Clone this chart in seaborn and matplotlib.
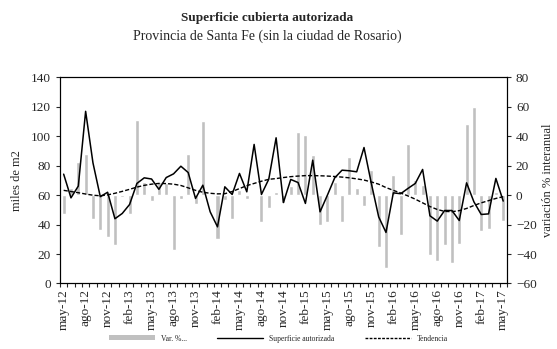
import numpy as np
import pandas as pd
import matplotlib
matplotlib.use("Agg")
import matplotlib.pyplot as plt
import seaborn as sns
from matplotlib.patches import Patch
from matplotlib.lines import Line2D

# Meses: may-12 a may-17
meses_es = ["ene", "feb", "mar", "abr", "may", "jun", "jul", "ago", "sep", "oct", "nov", "dic"]
fechas = pd.date_range("2012-05-01", "2017-05-01", freq="MS")
etiquetas = [f"{meses_es[d.month - 1]}-{str(d.year)[2:]}" for d in fechas]

# Superficie cubierta autorizada (miles de m2)
superficie = [74.3, 58.2, 66.2, 117.0, 82.0, 59.0, 62.0, 44.0, 47.6, 53.7,
              68.0, 71.8, 71.0, 64.0, 72.0, 74.5, 79.7, 75.4, 57.8, 66.8,
              48.7, 38.5, 65.7, 60.5, 74.8, 62.3, 94.5, 60.5, 70.9, 99.0,
              55.0, 70.7, 68.6, 54.4, 83.8, 48.7, 60.0, 71.8, 77.0, 76.6,
              75.9, 92.4, 68.0, 45.3, 34.7, 61.6, 61.0, 64.6, 68.0, 77.5,
              46.0, 42.4, 49.6, 49.6, 42.8, 68.4, 55.5, 46.9, 47.3, 71.4,
              56.0]

# Tendencia (miles de m2)
tendencia = [63.3, 62.5, 61.7, 60.8, 60.0, 59.6, 60.2, 61.3, 62.6, 64.0,
             65.5, 66.7, 67.5, 68.0, 67.9, 67.5, 66.6, 65.0, 63.3, 62.0,
             61.3, 60.9, 61.0, 62.5, 64.5, 66.5, 68.0, 69.5, 70.8, 71.3,
             72.0, 72.6, 73.0, 73.3, 73.3, 73.2, 73.0, 72.7, 72.3, 71.8,
             71.1, 70.3, 69.0, 67.5, 65.2, 63.3, 61.5, 59.5, 57.3, 54.8,
             52.3, 50.3, 49.0, 48.8, 49.5, 51.0, 53.0, 54.8, 56.3, 57.8,
             59.0]

# Variación % interanual
variacion = [-13.0, 5.0, 22.6, 28.0, -16.3, -23.8, -28.3, -34.0, -1.0, -13.0,
             51.4, 9.0, -4.0, 9.0, 8.0, -37.0, -2.3, 28.0, -6.0, 50.5,
             0.0, -29.5, -3.0, -16.0, 3.4, -2.3, 0.0, -18.0, -8.4, 2.0,
             -5.0, 6.0, 43.0, 41.0, 27.0, -20.4, -18.0, 9.0, -18.0, 26.0,
             5.0, -7.0, 17.0, -35.5, -49.8, 14.0, -27.2, 34.7, 10.0, 7.0,
             -40.8, -44.6, -34.0, -45.8, -33.3, 48.3, 60.0, -24.0, -23.0, 2.0,
             -17.4]

df = pd.DataFrame({"mes": np.arange(len(etiquetas)), "etiqueta": etiquetas,
                   "superficie": superficie, "tendencia": tendencia,
                   "variacion": variacion})

sns.set_style("ticks")
plt.rcParams["font.family"] = ["Liberation Serif", "DejaVu Serif"]

fig = plt.figure(figsize=(5.57, 3.49), dpi=100)
ax_var = fig.add_axes([0.1077, 0.1877, 0.8023, 0.5903])

# barras (eje derecho) debajo de las lineas
sns.barplot(data=df, x="mes", y="variacion", color="#c0c0c0", saturation=1,
            width=0.55, native_scale=True, ax=ax_var)
ax_var.set_xlabel("")

ax_sup = ax_var.twinx()
sns.lineplot(data=df, x="mes", y="superficie", color="black", linewidth=1.1, ax=ax_sup)
sns.lineplot(data=df, x="mes", y="tendencia", color="black", linewidth=1.0,
             linestyle=(0, (3, 1.5)), ax=ax_sup)
ax_sup.set_xlabel("")

# ejes: superficie a la izquierda, variacion a la derecha
ax_sup.yaxis.tick_left()
ax_sup.yaxis.set_label_position("left")
ax_sup.set_ylim(0, 140)
ax_sup.set_yticks(range(0, 141, 20))
ax_sup.set_ylabel("miles de m2", fontsize=9, labelpad=6)

ax_var.yaxis.tick_right()
ax_var.yaxis.set_label_position("right")
ax_var.set_ylim(-60, 80)
ax_var.set_yticks(range(-60, 81, 20))
ax_var.set_ylabel("variación % interanual", fontsize=9, labelpad=4)

for a in (ax_var, ax_sup):
    a.set_xlim(-0.5, len(etiquetas) - 0.5)
    a.tick_params(axis="y", labelsize=9.5, length=3, width=0.8, direction="out")
    for s in a.spines.values():
        s.set_visible(True)
        s.set_linewidth(0.8)
        s.set_color("black")

ax_var.set_xticks(df["mes"][::3])
ax_var.set_xticklabels(etiquetas[::3], rotation=90, fontsize=9.5)
ax_var.set_xticks(np.arange(-0.5, len(etiquetas)), minor=True)
ax_var.tick_params(axis="x", which="major", length=0, pad=4)
ax_var.tick_params(axis="x", which="minor", length=3, width=0.8, direction="out")
ax_sup.tick_params(axis="x", which="both", length=0)

fig.text(0.48, 0.948, "Superficie cubierta autorizada", ha="center", va="center",
         fontsize=9.5, fontweight="bold")
fig.text(0.48, 0.897, "Provincia de Santa Fe (sin la ciudad de Rosario)",
         ha="center", va="center", fontsize=10)

handles = [Patch(facecolor="#c0c0c0", edgecolor="none"),
           Line2D([], [], color="black", linewidth=1.0),
           Line2D([], [], color="black", linewidth=1.0, linestyle=(0, (2, 1)))]
fig.legend(handles, ["Var. %...", "Superficie autorizada", "Tendencia"],
           loc="center", bbox_to_anchor=(0.5, 0.03), ncol=3, frameon=False,
           fontsize=5.5, handlelength=6, handleheight=0.6, columnspacing=4)

fig.savefig("out.png", dpi=100)
